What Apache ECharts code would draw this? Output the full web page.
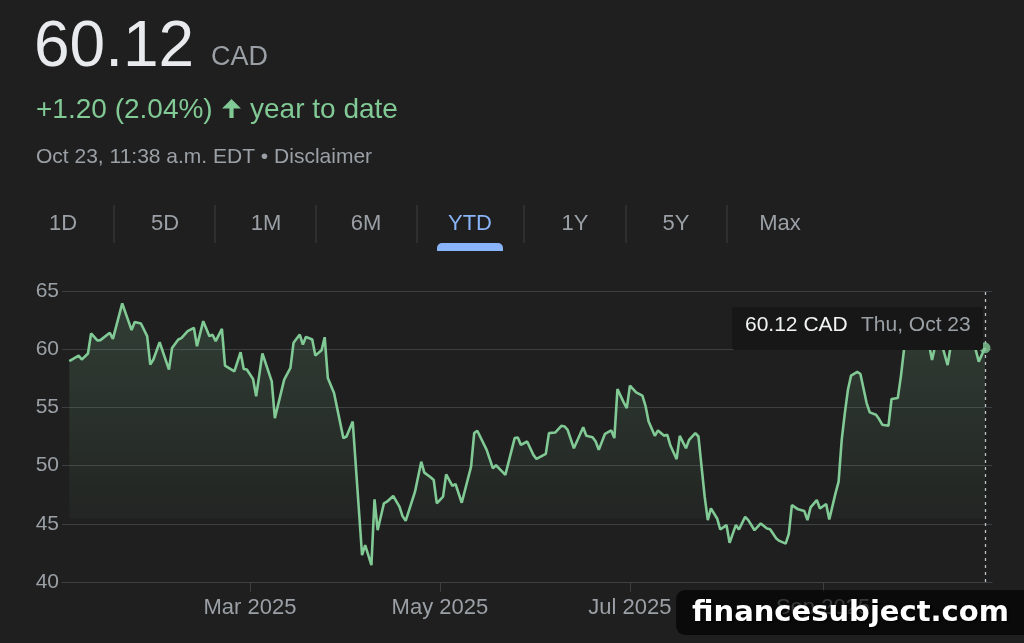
<!DOCTYPE html>
<html>
<head>
<meta charset="utf-8">
<script src="https://cdn.jsdelivr.net/npm/echarts@6/dist/echarts.min.js"></script>
<style>
  html, body { margin: 0; padding: 0; background: #1f1f1f; }
  #chart { width: 1024px; height: 643px; }
</style>
</head>
<body>
<div id="chart"></div>
<script>
  // price path (vertices only)
  const dates = [
    '2025-01-02','2025-01-05','2025-01-06','2025-01-08','2025-01-09','2025-01-11','2025-01-12','2025-01-15','2025-01-16','2025-01-19',
    '2025-01-22','2025-01-23','2025-01-25','2025-01-27','2025-01-28','2025-01-29','2025-01-31','2025-02-03','2025-02-04','2025-02-06',
    '2025-02-07','2025-02-09','2025-02-11','2025-02-12','2025-02-14','2025-02-16','2025-02-17','2025-02-18','2025-02-20','2025-02-21',
    '2025-02-24','2025-02-26','2025-02-27','2025-02-28','2025-03-02','2025-03-03','2025-03-05','2025-03-08','2025-03-09','2025-03-12',
    '2025-03-14','2025-03-15','2025-03-17','2025-03-18','2025-03-19','2025-03-21','2025-03-22','2025-03-24','2025-03-25','2025-03-26',
    '2025-03-28','2025-03-30','2025-03-31','2025-04-01','2025-04-03','2025-04-06','2025-04-07','2025-04-09','2025-04-10','2025-04-11',
    '2025-04-13','2025-04-14','2025-04-16','2025-04-18','2025-04-19','2025-04-20','2025-04-23','2025-04-25','2025-04-26','2025-04-28',
    '2025-04-29','2025-04-30','2025-05-02','2025-05-03','2025-05-05','2025-05-06','2025-05-08','2025-05-11','2025-05-12','2025-05-13',
    '2025-05-16','2025-05-18','2025-05-19','2025-05-21','2025-05-22','2025-05-25','2025-05-26','2025-05-27','2025-05-29','2025-05-31',
    '2025-06-01','2025-06-04','2025-06-05','2025-06-07','2025-06-09','2025-06-10','2025-06-11','2025-06-13','2025-06-16','2025-06-17',
    '2025-06-19','2025-06-20','2025-06-21','2025-06-23','2025-06-25','2025-06-26','2025-06-27','2025-06-29','2025-06-30','2025-07-01',
    '2025-07-03','2025-07-05','2025-07-06','2025-07-07','2025-07-09','2025-07-10','2025-07-12','2025-07-13','2025-07-14','2025-07-16',
    '2025-07-17','2025-07-19','2025-07-20','2025-07-22','2025-07-23','2025-07-25','2025-07-26','2025-07-27','2025-07-29','2025-07-30',
    '2025-08-01','2025-08-02','2025-08-04','2025-08-05','2025-08-07','2025-08-08','2025-08-10','2025-08-11','2025-08-12','2025-08-14',
    '2025-08-15','2025-08-17','2025-08-18','2025-08-20','2025-08-21','2025-08-22','2025-08-24','2025-08-26','2025-08-27','2025-08-28',
    '2025-08-30','2025-08-31','2025-09-02','2025-09-03','2025-09-05','2025-09-06','2025-09-07','2025-09-08','2025-09-09','2025-09-10',
    '2025-09-12','2025-09-13','2025-09-15','2025-09-16','2025-09-18','2025-09-19','2025-09-20','2025-09-22','2025-09-23','2025-09-25',
    '2025-09-26','2025-09-27','2025-09-28','2025-09-30','2025-10-02','2025-10-04','2025-10-06','2025-10-08','2025-10-11','2025-10-13',
    '2025-10-15','2025-10-17','2025-10-19','2025-10-21','2025-10-23'
  ];
  const prices = [
    58.97,59.45,59.11,59.63,61.35,60.75,60.78,61.41,60.89,63.94,
    61.64,62.33,62.21,61.12,58.68,59.11,60.60,58.25,60.11,60.83,
    60.95,61.55,61.84,60.26,62.41,61.12,61.24,60.69,61.75,58.59,
    58.10,59.74,58.30,58.25,57.44,55.95,59.63,57.24,54.08,57.39,
    58.39,60.55,61.26,60.40,61.06,60.83,59.45,59.91,61.03,57.53,
    56.24,53.65,52.36,52.50,53.79,42.30,43.16,41.44,47.10,44.45,
    46.75,46.90,47.39,46.47,45.66,45.26,47.76,50.34,49.40,49.00,
    48.76,46.75,47.33,49.25,48.25,48.42,46.81,49.91,52.79,52.99,
    51.35,49.77,50.03,49.48,49.20,52.36,52.41,51.78,52.07,50.92,
    50.57,51.01,52.79,52.84,53.42,53.36,53.07,51.49,53.30,52.56,
    52.44,52.07,51.35,52.73,53.02,52.36,56.58,55.43,54.94,56.87,
    56.29,56.01,55.14,53.79,52.56,53.02,52.56,52.64,51.72,50.55,
    52.56,51.49,52.21,52.79,52.50,47.33,45.32,46.32,45.46,44.51,
    44.89,43.36,44.89,44.51,45.60,45.32,44.45,44.74,45.03,44.60,
    44.54,43.74,43.53,43.30,44.11,46.61,46.24,46.09,45.32,46.41,
    47.04,46.32,46.70,45.37,47.61,48.62,52.21,54.51,56.52,57.73,
    58.05,57.87,55.37,54.57,54.37,54.00,53.51,53.42,55.72,55.80,
    57.67,59.97,61.20,62.10,61.00,61.80,59.07,61.50,58.64,61.90,
    61.20,62.20,61.00,58.93,60.12
  ];
  const prevClose = 58.92;          // close at end of last year
  const currency = 'CAD';
  const quoteTime = 'Oct 23, 11:38 a.m. EDT';
  const yTicks = [40, 45, 50, 55, 60, 65];
  const monthTicks = ['2025-03-01', '2025-05-01', '2025-07-01', '2025-09-01'];
  const ranges = ['1D', '5D', '1M', '6M', 'YTD', '1Y', '5Y', 'Max'];
  const activeRange = 'YTD';

  const MONTHS = ['Jan','Feb','Mar','Apr','May','Jun','Jul','Aug','Sep','Oct','Nov','Dec'];
  const WEEKDAYS = ['Sun','Mon','Tue','Wed','Thu','Fri','Sat'];
  const DAY = 864e5;
  const ts = s => { const p = s.split('-').map(Number); return new Date(p[0], p[1] - 1, p[2]).getTime(); };

  const GREEN = '#81c995';
  const GREY = '#9aa0a6';
  const GRID = '#3c4043';
  const FONT = '"Liberation Sans", Arial, sans-serif';

  const seriesData = dates.map((d, i) => [ts(d), prices[i]]);
  const last = seriesData[seriesData.length - 1];
  const lastDate = new Date(last[0]);
  const change = last[1] - prevClose;
  const pct = change / prevClose * 100;

  // tab strip
  const tabX = [63, 165, 266, 366, 470, 575, 676, 780];
  const sepX = [114, 215, 316, 417, 524, 626, 727];
  const tabs = ranges.map((r, i) => ({
    type: 'text', x: tabX[i], y: 224,
    style: { text: r, font: '22px ' + FONT, fill: r === activeRange ? '#8ab4f8' : GREY, align: 'center', verticalAlign: 'middle' }
  }));
  const seps = sepX.map(x => ({
    type: 'line', shape: { x1: x, y1: 205, x2: x, y2: 243 }, style: { stroke: GRID, lineWidth: 1 }
  }));
  const ai = ranges.indexOf(activeRange);

  const chart = echarts.init(document.getElementById('chart'));
  chart.setOption({
    backgroundColor: '#1f1f1f',
    animation: false,
    grid: { left: 62, right: 32, top: 291, bottom: 61 },
    xAxis: {
      // timestamps on a value axis so the month ticks can be placed exactly
      type: 'value',
      min: ts(dates[0]) - 2.34 * DAY,
      max: last[0] + 2.25 * DAY,
      axisLine: { show: true, lineStyle: { color: GRID, width: 1 } },
      axisTick: { show: true, length: 10, customValues: monthTicks.map(ts), lineStyle: { color: GRID } },
      axisLabel: {
        customValues: monthTicks.map(ts),
        color: GREY, fontSize: 22, fontFamily: FONT, margin: 15,
        formatter: v => { const d = new Date(v); return MONTHS[d.getMonth()] + ' ' + d.getFullYear(); }
      },
      splitLine: { show: false }
    },
    yAxis: {
      type: 'value',
      min: yTicks[0], max: yTicks[yTicks.length - 1], interval: 5,
      axisLine: { show: false }, axisTick: { show: false },
      axisLabel: { color: GREY, fontSize: 21, fontFamily: FONT, margin: 3 },
      splitLine: { lineStyle: { color: GRID, width: 1.2 } }
    },
    series: [
      {
        type: 'line',
        data: seriesData,
        showSymbol: false,
        lineStyle: { color: GREEN, width: 2.6 },
        areaStyle: {
          origin: 'start',
          color: new echarts.graphic.LinearGradient(0, 0, 0, 1, [
            { offset: 0, color: 'rgba(129,201,149,0.26)' },
            { offset: 0.77, color: 'rgba(129,201,149,0.05)' },
            { offset: 0.775, color: 'rgba(129,201,149,0)' },
            { offset: 1, color: 'rgba(129,201,149,0)' }
          ])
        },
        markLine: {
          silent: true, symbol: 'none', label: { show: false },
          lineStyle: { color: '#bdc1c6', type: [3, 4], width: 1.3 },
          data: [{ xAxis: last[0] }]
        }
      },
      {
        type: 'scatter',
        data: [last],
        symbolSize: 11,
        itemStyle: { color: GREEN },
        z: 5
      }
    ],
    graphic: [
      { type: 'text', x: 34, y: 48, style: { text: last[1].toFixed(2), font: '64px ' + FONT, fill: '#e8eaed', verticalAlign: 'middle' } },
      { type: 'text', x: 211, y: 58, style: { text: currency, font: '27px ' + FONT, fill: GREY, verticalAlign: 'middle' } },
      { type: 'text', x: 36, y: 110, style: { text: '+' + change.toFixed(2) + ' (' + pct.toFixed(2) + '%)', font: '28px ' + FONT, fill: GREEN, verticalAlign: 'middle' } },
      { type: 'polygon', shape: { points: [[231.5, 99], [241, 108.5], [233.6, 108.5], [233.6, 118], [229.4, 118], [229.4, 108.5], [222, 108.5]] }, style: { fill: GREEN } },
      { type: 'text', x: 250, y: 110, style: { text: 'year to date', font: '28px ' + FONT, fill: GREEN, verticalAlign: 'middle' } },
      { type: 'text', x: 36, y: 157, style: { text: quoteTime + ' \u2022 Disclaimer', font: '21px ' + FONT, fill: GREY, verticalAlign: 'middle' } },
      ...tabs,
      ...seps,
      { type: 'rect', shape: { x: tabX[ai] - 33, y: 243, width: 66, height: 8, r: [5, 5, 0, 0] }, style: { fill: '#8ab4f8' } },
      // hover card at the last point
      { type: 'rect', z: 10, shape: { x: 732, y: 307, width: 251, height: 43, r: 3 }, style: { fill: '#171717' } },
      { type: 'text', z: 11, x: 745, y: 325, style: { text: last[1].toFixed(2) + ' ' + currency, font: '21px ' + FONT, fill: '#f1f3f4', verticalAlign: 'middle' } },
      { type: 'text', z: 11, x: 861, y: 325, style: { text: WEEKDAYS[lastDate.getDay()] + ', ' + MONTHS[lastDate.getMonth()] + ' ' + lastDate.getDate(), font: '21px ' + FONT, fill: GREY, verticalAlign: 'middle' } },
      // watermark
      { type: 'rect', z: 20, shape: { x: 676, y: 590, width: 370, height: 45, r: 9 }, style: { fill: 'rgba(0,0,0,0.65)' } },
      { type: 'text', z: 21, x: 692, y: 613, style: { text: 'financesubject.com', font: 'bold 29px "DejaVu Sans", sans-serif', fill: '#ffffff', verticalAlign: 'middle', textShadowColor: '#000', textShadowBlur: 2, textShadowOffsetX: 1.5, textShadowOffsetY: 1.5 } }
    ]
  });
</script>
</body>
</html>
